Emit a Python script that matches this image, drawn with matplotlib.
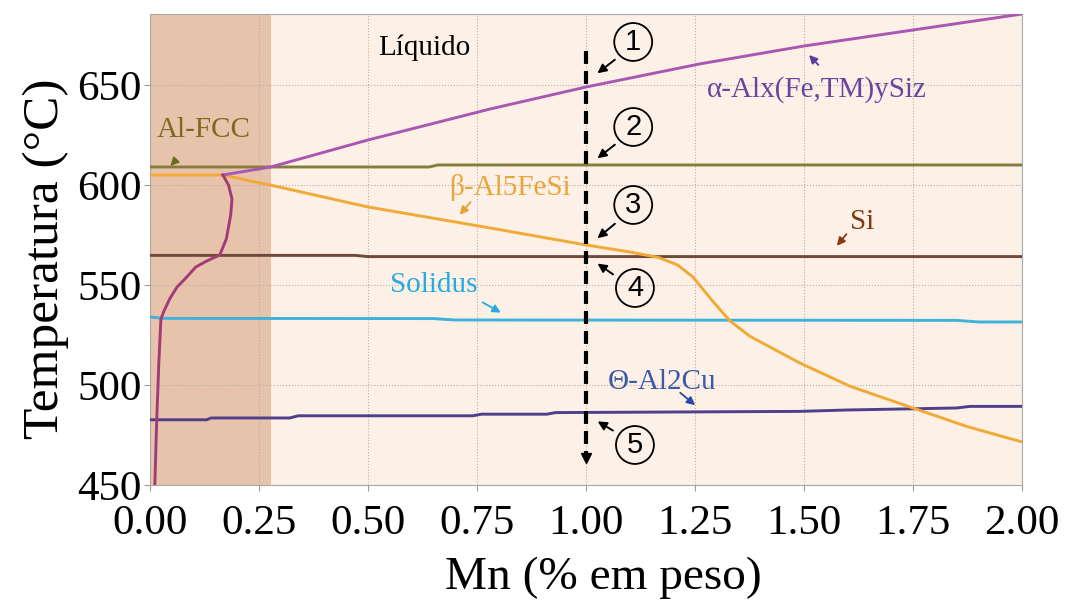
import matplotlib
matplotlib.use("Agg")
import matplotlib.pyplot as plt

# phase boundary data (Mn wt%, temperature C)
mn_fcc = [0.0, 0.28, 0.64, 0.66, 2.0]
t_fcc = [609, 609, 609, 610, 610]

mn_beta = [0.0, 0.167, 0.23, 0.275, 0.5, 0.78, 1.0, 1.1, 1.165, 1.21, 1.245, 1.29, 1.33, 1.376, 1.49, 1.606, 1.748, 1.874, 2.0]
t_beta = [605, 605, 602, 600, 589, 578.5, 570, 566.5, 563.8, 560, 554, 542, 532, 524.3, 511, 499.3, 488.6, 479.2, 471.5]

mn_alpha = [0.167, 0.277, 0.5, 0.78, 1.0, 1.26, 1.5, 1.75, 2.0]
t_alpha = [605, 609, 622.5, 638, 649, 660.5, 669.5, 677.5, 685.5]

mn_alpha_low = [0.167, 0.180, 0.188, 0.185, 0.175, 0.16, 0.13, 0.105, 0.08, 0.062, 0.045, 0.032, 0.025, 0.020, 0.015, 0.011]
t_alpha_low = [605, 600, 593, 585, 573, 565, 562, 559, 553, 549, 543, 537, 533, 510, 480, 450]

mn_si = [0.0, 0.47, 0.5, 2.0]
t_si = [564.8, 564.8, 564.2, 564.2]

mn_sol = [0.0, 0.03, 0.65, 0.7, 1.85, 1.9, 2.0]
t_sol = [534, 533.3, 533.2, 532.5, 532.3, 531.5, 531.5]

mn_theta = [0.0, 0.13, 0.14, 0.32, 0.34, 0.74, 0.76, 0.91, 0.93, 1.49, 1.6, 1.85, 1.88, 2.0]
t_theta = [482.6, 482.6, 483.5, 483.5, 484.6, 484.6, 485.4, 485.4, 486.2, 486.8, 487.5, 488.5, 489.3, 489.3]

x_ticks = [0.0, 0.25, 0.5, 0.75, 1.0, 1.25, 1.5, 1.75, 2.0]
y_ticks = [450, 500, 550, 600, 650]
shade_end = 0.277
mn_cut = 1.0

serif = ["Liberation Serif", "DejaVu Serif"]
sans = ["Liberation Sans", "DejaVu Sans"]

fig = plt.figure(figsize=(10.67, 6.0), dpi=100)
ax = fig.add_axes([0.1406, 0.1917, 0.8174, 0.785])
ax.set_facecolor("#fcf0e7")
ax.axvspan(0, shade_end, color="#e8c3ab", zorder=0, lw=0)

ax.plot(mn_fcc, t_fcc, color="#857d3c", lw=2.1, zorder=3)
ax.plot(mn_si, t_si, color="#6e4b3c", lw=2.1, zorder=3)
ax.plot(mn_sol, t_sol, color="#3fb2da", lw=2.1, zorder=3)
ax.plot(mn_theta, t_theta, color="#4e3f8a", lw=2.1, zorder=3)
ax.plot(mn_beta, t_beta, color="#f0aa35", lw=2.1, zorder=4)
ax.plot(mn_alpha, t_alpha, color="#a957b3", lw=2.1, zorder=4)
ax.plot(mn_alpha_low, t_alpha_low, color="#a33a78", lw=2.1, zorder=4)

# vertical dashed cut at 1.0 % Mn
ax.plot([mn_cut, mn_cut], [667, 466], color="black", lw=3, ls=(0, (3.1, 1.7)), zorder=6)
ax.plot([mn_cut], [463.5], marker="v", ms=7, color="black", zorder=6)

ax.set_xlim(0, 2.0)
ax.set_ylim(450, 685.5)
ax.set_xticks(x_ticks)
ax.set_xticklabels([f"{v:.2f}" for v in x_ticks])
ax.set_yticks(y_ticks)
ax.grid(True, color="#b8b0aa", ls=":", lw=0.8)
ax.set_axisbelow(True)
for s in ax.spines.values():
    s.set_color("#a8a8a8")
    s.set_linewidth(0.8)
ax.tick_params(length=4, color="#999999", labelsize=31)
ax.tick_params(axis="x", pad=10)
ax.tick_params(axis="y", pad=2)
for lab in ax.get_xticklabels() + ax.get_yticklabels():
    lab.set_family(serif)
ax.set_xlabel("Mn (% em peso)", family=serif, fontsize=34, labelpad=10)
ax.xaxis.label.set_x(0.52)
ax.set_ylabel("Temperatura (°C)", family=serif, fontsize=37, labelpad=6)
ax.yaxis.label.set_y(0.48)

# phase labels with arrows
ax.text(0.63, 668.5, "Líquido", family=serif, fontsize=21, color="black", ha="center", va="center", zorder=7)
labels = [
    ("Al-FCC", (0.124, 627.5), (0.064, 613.5), (0.042, 608.5), "#7b6a22", "#6e6a22"),
    ("β-Al5FeSi", (0.826, 598.5), (0.739, 592.5), (0.706, 584), "#e8a63a", "#e8a030"),
    ("α-Alx(Fe,TM)ySiz", (1.528, 647.5), (1.537, 659), (1.507, 666), "#6a449e", "#5a3a9a"),
    ("Si", (1.633, 581.5), (1.601, 576.5), (1.571, 568.5), "#7a3a12", "#8b3a10"),
    ("Solidus", (0.651, 550), (0.757, 542), (0.81, 535.5), "#25abdf", "#25abdf"),
    ("Θ-Al2Cu", (1.174, 501.5), (1.211, 497), (1.255, 489), "#3c5aa3", "#2b48a8"),
]
for txt, pos, start, tip, tc, ac in labels:
    ax.text(pos[0], pos[1], txt, family=serif, fontsize=21, color=tc, ha="center", va="center", zorder=7)
    ax.annotate("", xy=tip, xytext=start,
                arrowprops=dict(arrowstyle="-|>", color=ac, lw=1.3, mutation_scale=12), zorder=7)

# numbered points along the cut
circles = [
    ("1", (1.108, 671.5), (1.071, 663.5), (1.021, 655)),
    ("2", (1.108, 629), (1.071, 621), (1.021, 612.5)),
    ("3", (1.108, 590), (1.071, 581.5), (1.021, 572.5)),
    ("4", (1.112, 548.5), (1.067, 554.5), (1.021, 561.5)),
    ("5", (1.112, 470), (1.067, 476.5), (1.021, 482.5)),
]
for num, pos, start, tip in circles:
    ax.text(pos[0], pos[1], num, family=sans, fontsize=21, color="black", ha="center", va="center",
            bbox=dict(boxstyle="circle,pad=0.17", fc="none", ec="black", lw=1.3), zorder=7)
    ax.annotate("", xy=tip, xytext=start,
                arrowprops=dict(arrowstyle="-|>", color="black", lw=1.4, mutation_scale=13), zorder=7)

fig.savefig("out.png", dpi=100)
